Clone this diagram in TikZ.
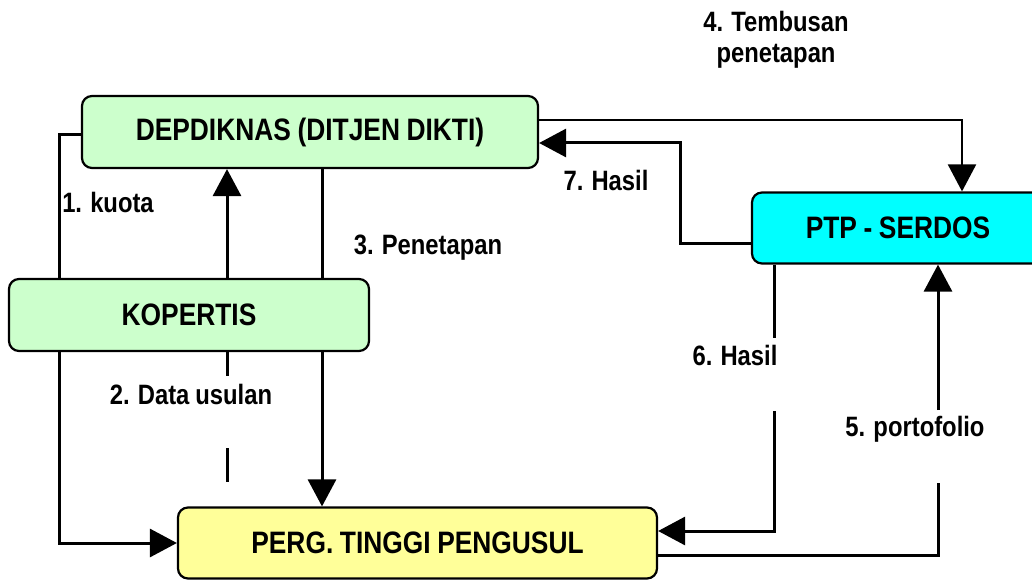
\documentclass[tikz,border=0pt]{standalone}
\usepackage{fontspec}
\setmainfont{Liberation Sans}[FakeStretch=0.85,WordSpace=0.9]
\usetikzlibrary{arrows.meta,backgrounds,calc}
\definecolor{boxgreen}{HTML}{CCFFCC}
\definecolor{boxyellow}{HTML}{FFFF99}
\definecolor{boxcyan}{HTML}{00FFFF}
\tikzset{
  box/.style={draw=black, line width=2.2pt, rounded corners=10pt, inner sep=0pt,
    font=\fontsize{31}{36}\selectfont\bfseries, text=black},
  conn/.style={draw=black, line width=3pt},
  arr/.style={conn, -{Triangle[length=27pt,width=28pt]}},
  lbl/.style={font=\fontsize{28}{31}\selectfont\bfseries, inner sep=0pt, text=black}
}
\begin{document}
\begin{tikzpicture}[x=1pt,y=-1pt]
\useasboundingbox (0,0) rectangle (1032,580);
\clip (0,0) rectangle (1032,580);
% boxes
\node[box, fill=boxgreen, minimum width=456pt, minimum height=72pt] (dep) at (310,132) {DEPDIKNAS (DITJEN DIKTI)};
\node[box, fill=boxgreen, minimum width=360pt, minimum height=72pt] (kop) at (189,315) {KOPERTIS};
\node[box, fill=boxyellow, minimum width=479pt, minimum height=71pt] (perg) at (417.5,543) {PERG. TINGGI PENGUSUL};
\node[box, fill=boxcyan, minimum width=292pt, minimum height=71pt] (ptp) at (898,228) {PTP - SERDOS};
% helper coordinates
\coordinate (xk) at (59,0);
\coordinate (xa) at (227,0);
\coordinate (xp) at (322,0);
\coordinate (xt) at (962,0);
\coordinate (x7) at (680,0);
\coordinate (x6) at (774,0);
\coordinate (x5) at (938,0);
\coordinate (d1) at (227,376);
\coordinate (d2) at (227,448);
\coordinate (d3) at (227,482);
\coordinate (s6a) at (774,338);
\coordinate (s6b) at (774,411);
\coordinate (s5a) at (938,483);
\coordinate (s5b) at (938,410);
\coordinate (h7) at ([yshift=-11pt]dep.east);
\begin{scope}[on background layer]
\fill[white] (0,0) rectangle (1032,580);
% 1. kuota
\draw[conn] ([yshift=-3pt]dep.west) -| (xk |- kop.north);
% up arrow KOPERTIS -> DEPDIKNAS
\draw[arr] (xa |- kop.north) -- (xa |- dep.south);
% 2. Data usulan
\draw[conn] (xa |- kop.south) -- (d1);
\draw[conn] (d2) -- (d3);
\draw[arr] (xk |- kop.south) |- (perg.west);
% 3. Penetapan
\draw[arr] (xp |- dep.south) -- (xp |- perg.north);
% 4. Tembusan penetapan
\draw[draw=black, line width=2.2pt, -{Triangle[length=27pt,width=28pt]}] ([yshift=12pt]dep.east) -| (xt |- ptp.north);
% 7. Hasil
\draw[arr] ([yshift=-15pt]ptp.west) -| (x7 |- h7) -- (h7);
% 6. Hasil
\draw[conn] (x6 |- ptp.south) -- (s6a);
\draw[arr] (s6b) |- ([yshift=12pt]perg.east);
% 5. portofolio
\draw[conn] ([yshift=-12pt]perg.east) -| (s5a);
\draw[arr] (s5b) -- (x5 |- ptp.south);
\end{scope}
% labels
\node[lbl] (l1) at (108,202) {1. kuota};
\node[lbl] (l2) at (191,394) {2. Data usulan};
\node[lbl] (l3) at (428,248) {3. Penetapan};
\node[lbl, align=center] (l4) at (776,40) {4. Tembusan\\penetapan};
\node[lbl] (l5) at (915,429) {5. portofolio};
\node[lbl] (l6) at (735,355) {6. Hasil};
\node[lbl] (l7) at (606,180) {7. Hasil};
\end{tikzpicture}
\end{document}
